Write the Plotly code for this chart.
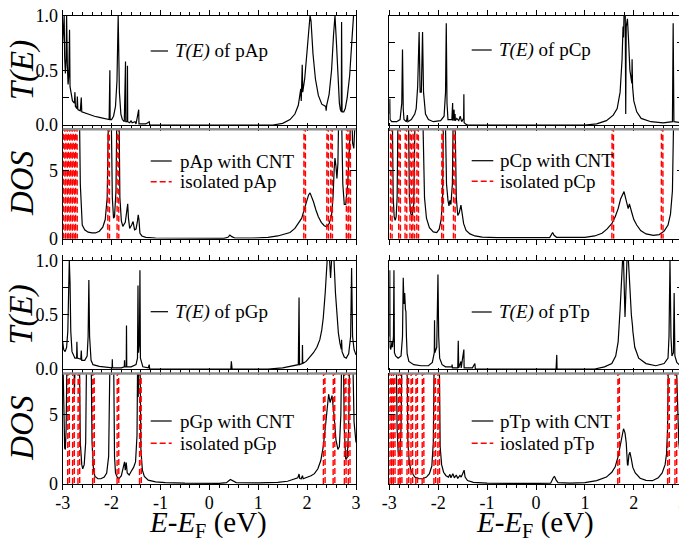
import plotly.graph_objects as go

PAGE_W, PAGE_H = 687, 542
BODY = 8  # default page margin around the figure div
W, H = PAGE_W, PAGE_H  # div overflows the window by BODY px on the right/bottom (invisible)

# ---------------- data (energy E-E_F in eV, value) ----------------
pAp_T = [(-3.00, 0.76), (-2.985, 0.9), (-2.97, 1.0), (-2.96, 0.62), (-2.945, 0.47), (-2.93, 0.6), (-2.92, 1.0),
         (-2.905, 0.55), (-2.89, 0.37), (-2.875, 0.45), (-2.86, 0.87), (-2.85, 0.35), (-2.82, 0.28), (-2.80, 0.22),
         (-2.76, 0.2), (-2.75, 0.3), (-2.74, 0.17), (-2.71, 0.15), (-2.70, 0.26), (-2.69, 0.14), (-2.64, 0.13),
         (-2.62, 0.25), (-2.61, 0.12), (-2.55, 0.11), (-2.45, 0.09), (-2.35, 0.08), (-2.25, 0.07), (-2.12, 0.06),
         (-2.05, 0.05), (-2.035, 0.5), (-2.03, 0.05), (-2.0, 0.05), (-1.96, 0.08), (-1.92, 0.17), (-1.89, 0.4),
         (-1.865, 1.0), (-1.84, 0.3), (-1.81, 0.1), (-1.78, 0.05), (-1.74, 0.03), (-1.715, 0.58), (-1.71, 0.03),
         (-1.68, 0.03), (-1.675, 0.54), (-1.67, 0.03), (-1.63, 0.02), (-1.6, 0.04), (-1.58, 0.02), (-1.52, 0.03),
         (-1.5, 0.01), (-1.445, 0.14), (-1.44, 0.01), (-1.3, 0.01), (-1.23, 0.03), (-1.22, 0.0), (1.3, 0.0),
         (1.5, 0.015), (1.65, 0.05), (1.75, 0.1), (1.82, 0.18), (1.86, 0.28), (1.87, 0.33), (1.88, 0.22),
         (1.90, 0.55), (1.91, 0.3), (1.95, 0.42), (2.0, 0.68), (2.04, 0.95), (2.06, 1.0), (2.08, 0.95),
         (2.12, 0.65), (2.17, 0.42), (2.23, 0.27), (2.30, 0.19), (2.38, 0.17), (2.39, 0.13), (2.40, 0.18),
         (2.45, 0.28), (2.50, 0.5), (2.54, 0.82), (2.57, 1.0), (2.60, 0.75), (2.63, 0.4), (2.66, 0.2),
         (2.68, 0.14), (2.70, 0.12), (2.705, 0.94), (2.715, 0.12), (2.75, 0.12), (2.78, 0.15), (2.82, 0.25),
         (2.87, 0.45), (2.92, 0.8), (2.95, 1.0), (3.0, 1.0)]

pAp_DOS = [(-3.0, 10), (-2.66, 10), (-2.64, 4), (-2.62, 1.6), (-2.60, 1.0), (-2.55, 0.65), (-2.48, 0.48),
           (-2.40, 0.42), (-2.33, 0.42), (-2.25, 0.55), (-2.18, 0.85), (-2.13, 1.4), (-2.09, 3.0), (-2.06, 10),
           (-2.01, 10), (-1.985, 3), (-1.96, 1.5), (-1.94, 1.6), (-1.91, 3.5), (-1.89, 10), (-1.85, 10),
           (-1.83, 3), (-1.80, 1.3), (-1.77, 0.9), (-1.72, 1.2), (-1.69, 2.0), (-1.67, 2.55), (-1.655, 1.5),
           (-1.63, 0.75), (-1.59, 1.0), (-1.56, 1.25), (-1.53, 0.65), (-1.50, 0.7), (-1.47, 1.3), (-1.455, 1.75),
           (-1.44, 1.4), (-1.42, 0.4), (-1.38, 0.2), (-1.3, 0.1), (-1.1, 0.05), (-0.5, 0.02), (0.3, 0.02),
           (0.38, 0.1), (0.42, 0.27), (0.46, 0.15), (0.52, 0.05), (0.9, 0.05), (1.2, 0.1), (1.4, 0.2),
           (1.55, 0.32), (1.65, 0.45), (1.75, 0.75), (1.82, 1.1), (1.86, 1.3), (1.89, 1.5), (1.93, 2.0),
           (1.98, 2.6), (2.03, 3.2), (2.06, 3.35), (2.09, 3.1), (2.13, 2.7), (2.18, 2.1), (2.23, 1.6),
           (2.29, 1.2), (2.35, 0.95), (2.40, 0.88), (2.45, 1.1), (2.50, 1.7), (2.53, 3.0), (2.555, 5.2),
           (2.57, 5.9), (2.59, 5.3), (2.61, 4.4), (2.63, 5.5), (2.65, 10), (2.70, 10), (2.73, 4), (2.76, 2.5),
           (2.79, 2.5), (2.83, 4), (2.86, 10), (2.91, 10), (2.93, 7.0), (2.955, 6.6), (2.98, 8.5), (3.0, 10)]

pAp_iso = [-2.97, -2.92, -2.87, -2.82, -2.77, -2.72, -2.06, -1.87, 1.95, 2.42, 2.50, 2.82, 2.87]

pGp_T = [(-3.0, 0.25), (-2.98, 0.18), (-2.95, 0.16), (-2.92, 0.2), (-2.895, 0.35), (-2.875, 0.8), (-2.865, 1.0),
         (-2.85, 0.8), (-2.835, 0.35), (-2.81, 0.16), (-2.78, 0.12), (-2.75, 0.1), (-2.715, 0.1), (-2.71, 0.25),
         (-2.70, 0.1), (-2.63, 0.09), (-2.62, 0.17), (-2.61, 0.08), (-2.55, 0.08), (-2.5, 0.12), (-2.48, 0.3),
         (-2.465, 0.82), (-2.45, 0.3), (-2.42, 0.08), (-2.38, 0.04), (-2.25, 0.025), (-2.1, 0.015), (-1.99, 0.01),
         (-1.985, 0.09), (-1.98, 0.01), (-1.8, 0.01), (-1.74, 0.02), (-1.735, 0.08), (-1.73, 0.02), (-1.70, 0.02),
         (-1.695, 0.4), (-1.69, 0.02), (-1.6, 0.02), (-1.5, 0.04), (-1.47, 0.1), (-1.46, 0.77), (-1.45, 0.15),
         (-1.43, 0.25), (-1.42, 0.91), (-1.41, 0.1), (-1.36, 0.02), (-1.25, 0.01), (-1.23, 0.04), (-1.22, 0.0),
         (0.44, 0.0), (0.45, 0.07), (0.465, 0.0), (1.2, 0.0), (1.5, 0.01), (1.7, 0.025), (1.82, 0.04),
         (1.835, 0.66), (1.845, 0.04), (1.90, 0.05), (1.905, 0.22), (1.91, 0.05), (1.98, 0.07), (2.08, 0.12),
         (2.13, 0.15), (2.20, 0.2), (2.26, 0.27), (2.30, 0.36), (2.33, 0.47), (2.37, 0.7), (2.41, 1.0),
         (2.46, 1.0), (2.48, 0.84), (2.50, 1.0), (2.55, 1.0), (2.58, 0.7), (2.61, 0.48), (2.64, 0.33),
         (2.67, 0.24), (2.70, 0.18), (2.705, 0.27), (2.715, 0.16), (2.76, 0.11), (2.80, 0.1), (2.85, 0.14),
         (2.89, 0.3), (2.91, 0.93), (2.93, 0.3), (2.96, 0.18), (3.0, 0.13)]

pGp_DOS = [(-3.0, 10), (-2.98, 5), (-2.96, 2.6), (-2.945, 2.5), (-2.93, 4), (-2.91, 10), (-2.77, 10), (-2.76, 6.5),
           (-2.74, 10), (-2.66, 10), (-2.64, 3), (-2.61, 1.4), (-2.59, 1.1), (-2.56, 1.4), (-2.53, 3), (-2.51, 10),
           (-2.42, 10), (-2.40, 3), (-2.37, 1.0), (-2.34, 0.55), (-2.28, 0.38), (-2.22, 0.38), (-2.15, 0.5),
           (-2.10, 0.8), (-2.06, 2.0), (-2.03, 10), (-1.96, 10), (-1.94, 2), (-1.92, 0.8), (-1.88, 0.45),
           (-1.85, 0.38), (-1.80, 0.6), (-1.76, 1.3), (-1.735, 1.6), (-1.72, 1.0), (-1.70, 1.55), (-1.68, 0.8),
           (-1.64, 0.65), (-1.60, 0.9), (-1.55, 1.2), (-1.51, 1.6), (-1.48, 3.5), (-1.465, 10), (-1.455, 6.3),
           (-1.44, 10), (-1.42, 10), (-1.40, 2.5), (-1.37, 1.0), (-1.33, 0.55), (-1.25, 0.28), (-1.1, 0.15),
           (-0.9, 0.1), (-0.5, 0.06), (0.2, 0.05), (0.35, 0.1), (0.43, 0.32), (0.48, 0.25), (0.55, 0.1),
           (1.0, 0.08), (1.4, 0.12), (1.6, 0.2), (1.75, 0.35), (1.81, 0.45), (1.835, 0.72), (1.85, 0.4),
           (1.88, 0.38), (1.905, 0.6), (1.92, 0.38), (1.98, 0.45), (2.08, 0.6), (2.15, 0.75), (2.22, 1.1),
           (2.28, 1.7), (2.33, 2.7), (2.37, 4.0), (2.41, 5.6), (2.44, 6.5), (2.47, 5.9), (2.51, 6.4), (2.55, 5.0),
           (2.59, 3.2), (2.63, 2.5), (2.66, 2.7), (2.69, 5), (2.71, 10), (2.74, 10), (2.76, 4), (2.79, 1.8),
           (2.82, 1.9), (2.85, 4), (2.87, 10), (2.93, 10), (2.96, 4.5), (3.0, 3.0)]

pGp_iso = [-2.88, -2.78, -2.67, -2.37, -1.87, -1.41, 2.35, 2.55, 2.78, 2.86]

pCp_T = [(-3.0, 0.1), (-2.99, 0.24), (-2.985, 0.05), (-2.95, 0.03), (-2.85, 0.03), (-2.78, 0.05), (-2.745, 0.2),
         (-2.73, 0.69), (-2.715, 0.15), (-2.70, 0.05), (-2.65, 0.03), (-2.63, 0.09), (-2.62, 0.03), (-2.55, 0.05),
         (-2.48, 0.1), (-2.45, 0.15), (-2.42, 0.35), (-2.39, 0.85), (-2.37, 0.3), (-2.345, 0.3), (-2.32, 0.85),
         (-2.30, 0.3), (-2.26, 0.1), (-2.2, 0.05), (-2.1, 0.03), (-1.95, 0.04), (-1.88, 0.08), (-1.85, 0.3),
         (-1.835, 0.93), (-1.82, 0.2), (-1.80, 0.05), (-1.72, 0.05), (-1.705, 0.2), (-1.70, 0.04),
         (-1.675, 0.14), (-1.67, 0.04), (-1.655, 0.1), (-1.65, 0.04), (-1.62, 0.06), (-1.58, 0.04),
         (-1.55, 0.08), (-1.52, 0.03), (-1.48, 0.06), (-1.475, 0.28), (-1.47, 0.02), (-1.44, 0.01), (-1.4, 0.0),
         (1.0, 0.0), (1.24, 0.01), (1.44, 0.04), (1.58, 0.09), (1.66, 0.15), (1.72, 0.3), (1.76, 0.6),
         (1.78, 0.9), (1.79, 0.8), (1.80, 1.0), (1.825, 1.0), (1.835, 0.1), (1.845, 0.9), (1.87, 0.97),
         (1.89, 0.8), (1.92, 0.5), (1.96, 0.38), (1.965, 0.6), (1.975, 0.35), (2.0, 0.22), (2.06, 0.12),
         (2.15, 0.06), (2.35, 0.03), (2.6, 0.02), (2.79, 0.03), (2.805, 0.93), (2.82, 0.03), (3.0, 0.02)]

pCp_DOS = [(-3.0, 10), (-2.94, 10), (-2.92, 3), (-2.90, 1.6), (-2.88, 1.35), (-2.86, 1.6), (-2.84, 3),
           (-2.82, 10), (-2.61, 10), (-2.59, 3), (-2.56, 1.8), (-2.53, 1.7), (-2.50, 2.5), (-2.47, 10),
           (-2.32, 10), (-2.28, 3), (-2.24, 1.5), (-2.18, 0.8), (-2.10, 0.5), (-2.03, 0.45), (-1.98, 0.7),
           (-1.94, 1.4), (-1.91, 3), (-1.89, 10), (-1.86, 10), (-1.83, 4), (-1.80, 2.8), (-1.78, 2.4),
           (-1.76, 2.8), (-1.74, 2.5), (-1.71, 4), (-1.69, 10), (-1.66, 10), (-1.63, 3), (-1.60, 1.7),
           (-1.57, 1.9), (-1.535, 2.45), (-1.51, 1.8), (-1.48, 1.1), (-1.43, 0.6), (-1.35, 0.35), (-1.25, 0.2),
           (-1.1, 0.12), (-0.8, 0.08), (0.0, 0.06), (0.28, 0.08), (0.34, 0.45), (0.37, 0.25), (0.42, 0.1),
           (0.7, 0.08), (1.0, 0.1), (1.2, 0.2), (1.35, 0.4), (1.45, 0.7), (1.55, 1.1), (1.62, 1.6), (1.68, 2.2),
           (1.73, 2.9), (1.77, 3.3), (1.80, 3.45), (1.83, 3.0), (1.86, 2.4), (1.885, 2.2), (1.91, 2.55),
           (1.93, 2.2), (1.96, 1.9), (2.0, 1.4), (2.06, 1.0), (2.14, 0.6), (2.25, 0.35), (2.40, 0.25),
           (2.52, 0.3), (2.62, 0.55), (2.70, 1.0), (2.75, 1.8), (2.79, 3.5), (2.82, 10), (3.0, 10)]

pCp_iso = [-2.96, -2.79, -2.66, -2.56, -2.50, -2.42, -1.91, -1.67, 1.57, 2.58, 2.96]

pTp_T = [(-3.0, 0.3), (-2.99, 0.91), (-2.985, 0.2), (-2.97, 0.18), (-2.945, 0.25), (-2.935, 0.2), (-2.915, 0.3),
         (-2.905, 0.91), (-2.895, 0.15), (-2.87, 0.12), (-2.82, 0.1), (-2.76, 0.12), (-2.73, 0.3),
         (-2.715, 0.84), (-2.70, 0.6), (-2.685, 0.7), (-2.67, 0.55), (-2.66, 0.53), (-2.65, 0.3), (-2.635, 0.14),
         (-2.60, 0.07), (-2.5, 0.04), (-2.35, 0.03), (-2.2, 0.03), (-2.12, 0.06), (-2.08, 0.15), (-2.075, 0.45),
         (-2.07, 0.15), (-2.03, 0.2), (-2.005, 0.87), (-1.99, 0.3), (-1.97, 0.1), (-1.92, 0.04), (-1.85, 0.02),
         (-1.72, 0.02), (-1.715, 0.04), (-1.71, 0.01), (-1.60, 0.01), (-1.59, 0.26), (-1.58, 0.01),
         (-1.535, 0.07), (-1.53, 0.01), (-1.475, 0.18), (-1.47, 0.01), (-1.3, 0.01), (-1.25, 0.05), (-1.24, 0.0),
         (0.41, 0.0), (0.415, 0.13), (0.425, 0.13), (0.43, 0.0), (1.2, 0.0), (1.4, 0.02), (1.55, 0.05),
         (1.63, 0.12), (1.68, 0.25), (1.72, 0.55), (1.75, 0.9), (1.77, 1.0), (1.79, 1.0), (1.80, 0.79),
         (1.815, 0.79), (1.82, 0.48), (1.83, 0.6), (1.86, 1.0), (1.89, 1.0), (1.92, 0.7), (1.95, 0.5),
         (1.975, 0.39), (1.98, 0.35), (2.02, 0.2), (2.1, 0.1), (2.25, 0.05), (2.45, 0.03), (2.62, 0.05),
         (2.70, 0.1), (2.72, 0.3), (2.74, 1.0), (2.76, 0.3), (2.78, 0.12), (2.81, 0.15), (2.825, 0.7),
         (2.84, 0.12), (2.88, 0.06), (2.95, 0.03), (3.0, 0.02)]

pTp_DOS = [(-3.0, 10), (-2.86, 10), (-2.84, 4), (-2.82, 2.4), (-2.80, 2.05), (-2.78, 2.4), (-2.76, 4),
           (-2.74, 10), (-2.64, 10), (-2.62, 3), (-2.59, 1.5), (-2.55, 0.9), (-2.48, 0.5), (-2.40, 0.38),
           (-2.32, 0.38), (-2.24, 0.5), (-2.18, 0.75), (-2.13, 1.3), (-2.10, 3), (-2.08, 10), (-1.98, 10),
           (-1.96, 2.7), (-1.93, 1.4), (-1.89, 0.85), (-1.84, 0.6), (-1.79, 0.5), (-1.76, 0.7), (-1.74, 0.45),
           (-1.70, 0.75), (-1.67, 0.45), (-1.63, 0.65), (-1.60, 0.4), (-1.555, 0.62), (-1.53, 0.5), (-1.50, 0.75),
           (-1.47, 1.0), (-1.45, 0.5), (-1.40, 0.25), (-1.28, 0.12), (-1.0, 0.06), (0.0, 0.04), (0.3, 0.06),
           (0.36, 0.5), (0.38, 0.54), (0.41, 0.3), (0.45, 0.1), (0.7, 0.06), (1.0, 0.1), (1.24, 0.24),
           (1.44, 0.5), (1.55, 0.85), (1.62, 1.25), (1.68, 2.0), (1.72, 2.7), (1.76, 3.6), (1.79, 4.0),
           (1.82, 3.7), (1.845, 3.0), (1.87, 1.4), (1.88, 1.35), (1.90, 2.1), (1.92, 2.3), (1.95, 1.8),
           (1.98, 1.2), (2.03, 0.8), (2.13, 0.42), (2.25, 0.26), (2.38, 0.24), (2.50, 0.45), (2.58, 0.8),
           (2.64, 1.4), (2.67, 2.2), (2.69, 4), (2.71, 10), (2.86, 10), (2.92, 3), (2.96, 1.7), (3.0, 1.1)]

pTp_iso = [-2.98, -2.94, -2.90, -2.80, -2.76, -2.62, -2.54, -2.44, -2.31, -2.07, -1.99, 1.69, 2.71, 2.86]

x_ticks = [-3, -2, -1, 0, 1, 2, 3]
x_ticktext = ['-3', '-2', '-1', '0', '1', '2', '3']
T_ticks = [0, 0.5, 1.0]
T_ticktext = ['0.0', '0.5', '1.0']
DOS_ticks = [0, 5]
DOS_ticktext = ['0', '5']

# ---------------- layout geometry (page pixels -> paper fractions) ----------------
def fx(p):
    return (p - BODY) / W


def fy(p):
    return 1 - (p - BODY) / H


col_px = [(62.7, 356.0), (389.3, 682.7)]
row_px = [(15.5, 125.0), (129.3, 238.7), (260.5, 369.0), (373.5, 484.0)]

panels = [
    # (col, row, kind, curve, iso, molecule, iso_label)
    (0, 0, 'T', pAp_T, None, 'pAp', None),
    (0, 1, 'D', pAp_DOS, pAp_iso, 'pAp', 'isolated pAp'),
    (0, 2, 'T', pGp_T, None, 'pGp', None),
    (0, 3, 'D', pGp_DOS, pGp_iso, 'pGp', 'isolated pGp'),
    (1, 0, 'T', pCp_T, None, 'pCp', None),
    (1, 1, 'D', pCp_DOS, pCp_iso, 'pCp', 'isolated pCp'),
    (1, 2, 'T', pTp_T, None, 'pTp', None),
    (1, 3, 'D', pTp_DOS, pTp_iso, 'pTp', 'ioslated pTp'),
]

FONT = 'Liberation Serif'
fig = go.Figure()
shapes = []
annotations = []
layout = {}

legend_px = {  # (line x0, line x1, text x, y1, y2)
    (0, 0): (150.7, 168.0, 173.0, 51.0, None),
    (0, 1): (150.7, 171.7, 178.0, 161.0, 181.7),
    (0, 2): (150.7, 168.0, 173.0, 311.7, None),
    (0, 3): (150.7, 171.7, 178.0, 421.0, 443.3),
    (1, 0): (471.7, 491.7, 497.3, 50.0, None),
    (1, 1): (471.7, 493.3, 498.0, 160.7, 181.3),
    (1, 2): (471.7, 491.7, 497.3, 312.0, None),
    (1, 3): (471.7, 493.3, 498.0, 421.0, 443.3),
}

for i, (col, row, kind, curve, iso, mol, iso_label) in enumerate(panels, start=1):
    xn = 'x' if i == 1 else f'x{i}'
    yn = 'y' if i == 1 else f'y{i}'
    xk = 'xaxis' if i == 1 else f'xaxis{i}'
    yk = 'yaxis' if i == 1 else f'yaxis{i}'
    c0, c1 = col_px[col]
    r0, r1 = row_px[row]

    xs = [p[0] for p in curve]
    ys = [p[1] for p in curve]
    name = f'T(E) of {mol}' if kind == 'T' else f'{mol} with CNT'
    fig.add_trace(go.Scatter(x=xs, y=ys, mode='lines', name=name, showlegend=False,
                             line=dict(color='black', width=1.2), xaxis=xn, yaxis=yn))
    if iso is not None:
        ix, iy = [], []
        for e in iso:
            ix += [e - 0.018, e, e + 0.018, None]
            iy += [0, 40, 0, None]
        fig.add_trace(go.Scatter(x=ix, y=iy, mode='lines', name=iso_label, showlegend=False,
                                 line=dict(color='#ff0000', width=1.4, dash='6px,3px'),
                                 xaxis=xn, yaxis=yn))

    layout[xk] = dict(domain=[fx(c0), fx(c1)], range=[-3, 3], anchor=yn, automargin=False,
                      showline=True, linecolor='black', linewidth=1, mirror='ticks',
                      ticks='outside', ticklen=5, tickwidth=1, tickcolor='black',
                      tickmode='array', tickvals=x_ticks, ticktext=x_ticktext,
                      showticklabels=(row == 3), ticklabelstandoff=-3, ticklabeloverflow='allow',
                      minor=dict(ticks='outside', ticklen=3, tickwidth=1, tickcolor='black',
                                 tick0=-3, dtick=0.2, showgrid=False),
                      showgrid=False, zeroline=False,
                      tickfont=dict(family=FONT, size=18, color='black'))
    if kind == 'T':
        yrange, tv, tt = [0, 1], T_ticks, T_ticktext
        minor = dict(ticks='inside', ticklen=6, tickwidth=1, tickcolor='black',
                     tickmode='array', tickvals=[0.25, 0.75], showgrid=False)
    else:
        yrange, tv, tt = [0, 8], DOS_ticks, DOS_ticktext
        minor = None
    ya = dict(domain=[fy(r1), fy(r0)], range=yrange, anchor=xn, automargin=False,
              showline=True, linecolor='black', linewidth=1, mirror='ticks',
              ticks='inside', ticklen=6, tickwidth=1, tickcolor='black',
              tickmode='array', tickvals=tv, ticktext=tt, ticklabeloverflow='allow',
              showticklabels=(col == 0), showgrid=False, zeroline=False,
              tickfont=dict(family=FONT, size=18, color='black'))
    if minor:
        ya['minor'] = minor
    layout[yk] = ya

    if kind == 'D':
        shapes.append(dict(type='line', xref='paper', yref='paper', x0=fx(c0), x1=fx(c1),
                           y0=fy(r0), y1=fy(r0), line=dict(color='#8c8c8c', width=2.5)))

    # legend (drawn manually)
    lx0, lx1, tx, ly1, ly2 = legend_px[(col, row)]
    shapes.append(dict(type='line', xref='paper', yref='paper', x0=fx(lx0), x1=fx(lx1),
                       y0=fy(ly1), y1=fy(ly1), line=dict(color='black', width=1.2)))
    label = f'<i>T(E)</i> of {mol}' if kind == 'T' else f'{mol} with CNT'
    annotations.append(dict(xref='paper', yref='paper', x=fx(tx), y=fy(ly1), xanchor='left',
                            yanchor='middle', text=label, showarrow=False,
                            font=dict(family=FONT, size=19, color='black')))
    if ly2 is not None:
        shapes.append(dict(type='line', xref='paper', yref='paper', x0=fx(lx0), x1=fx(lx1),
                           y0=fy(ly2), y1=fy(ly2),
                           line=dict(color='#ff0000', width=1.4, dash='6px,3px')))
        annotations.append(dict(xref='paper', yref='paper', x=fx(tx), y=fy(ly2), xanchor='left',
                                yanchor='middle', text=iso_label, showarrow=False,
                                font=dict(family=FONT, size=19, color='black')))

    # y titles (left column only)
    if col == 0:
        ytitle = '<i>T(E)</i>' if kind == 'T' else '<i>DOS</i>'
        annotations.append(dict(xref='paper', yref='paper', x=fx(22), y=fy((r0 + r1) / 2),
                                xanchor='center', yanchor='middle', text=ytitle, textangle=-90,
                                showarrow=False, font=dict(family=FONT, size=33, color='black')))

# x titles
for c0, c1 in col_px:
    annotations.append(dict(xref='paper', yref='paper', x=fx((c0 + c1) / 2 - 1), y=fy(524),
                            xanchor='center', yanchor='middle',
                            text='<i>E</i>-<i>E</i><sub>F</sub> (eV)', showarrow=False,
                            font=dict(family=FONT, size=29, color='black')))

fig.update_layout(width=W, height=H, margin=dict(l=0, r=0, t=0, b=0),
                  paper_bgcolor='white', plot_bgcolor='white', showlegend=False,
                  font=dict(family=FONT, color='black'),
                  shapes=shapes, annotations=annotations, **layout)

fig.write_html('out.html')
